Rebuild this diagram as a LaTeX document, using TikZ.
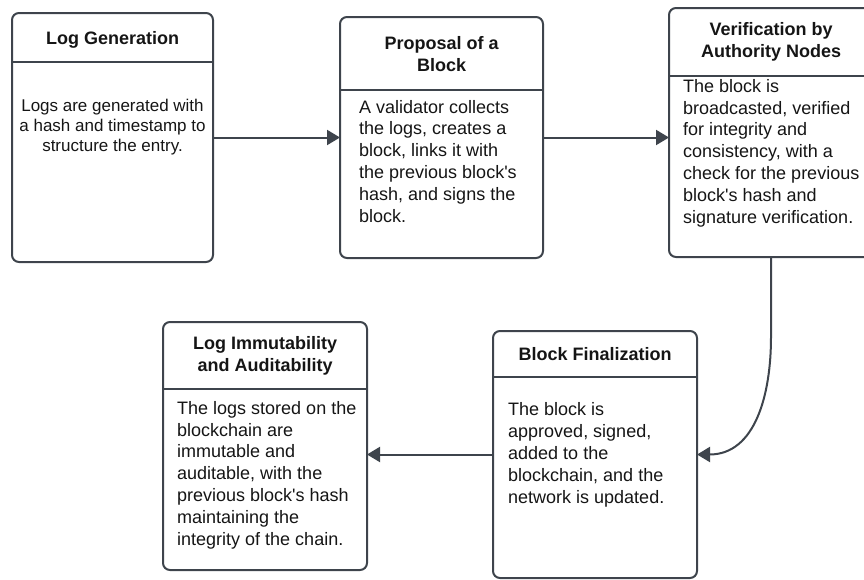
\documentclass[tikz,border=0pt]{standalone}
\usepackage{fontspec}
\setmainfont{Liberation Sans}
\usepackage{tikz}
\usetikzlibrary{arrows.meta,positioning}
\definecolor{edgegray}{HTML}{3E444C}
\definecolor{inkblack}{HTML}{151515}

\tikzset{
  stage/.style={draw=edgegray, line width=2pt, rounded corners=7pt, anchor=north west, inner sep=0pt, outer sep=0pt},
  head/.style={anchor=north west, text=inkblack, font=\bfseries\fontsize{18}{22}\selectfont, align=center, inner sep=0pt},
  body/.style={anchor=base west, text=inkblack, font=\fontsize{18}{21.8}\selectfont, align=left, inner sep=0pt},
  flow/.style={draw=edgegray, line width=2pt, -{Triangle[length=13pt,width=15pt]}},
}

\begin{document}
\begin{tikzpicture}[x=1pt, y=-1pt]
  \useasboundingbox (0,0) rectangle (864,579);

  % Frames of the five stages
  \node[stage, minimum width=201, minimum height=249] (gen) at (12,13) {};
  \node[stage, minimum width=203, minimum height=241] (prop) at (340,17) {};
  \node[stage, minimum width=204, minimum height=249] (verif) at (669,8) {};
  \node[stage, minimum width=204, minimum height=247] (final) at (493,331) {};
  \node[stage, minimum width=204, minimum height=248] (immut) at (163,322) {};

  % Headers
  \node[head, minimum width=201, minimum height=49, text depth=0pt] (gen-head) at (gen.north west) {Log Generation};
  \node[head, minimum width=203, minimum height=73] (prop-head) at (prop.north west) {Proposal of a\\Block};
  \node[head, minimum width=204, minimum height=68] (verif-head) at (verif.north west) {Verification by\\Authority Nodes};
  \node[head, minimum width=204, minimum height=46] (final-head) at (final.north west) {Block Finalization};
  \node[head, minimum width=204, minimum height=67] (immut-head) at (immut.north west) {Log Immutability\\and Auditability};

  % Divider under each header
  \foreach \s in {gen,prop,verif,final,immut} {
    \draw[edgegray, line width=2pt] (\s-head.south west) -- (\s-head.south east);
  }

  % Descriptions (placed by the baseline of their last line)
  \node[body, anchor=base, align=center, font=\fontsize{17}{20}\selectfont] (gen-body) at (112.5,151)
    {Logs are generated with\\a hash and timestamp to\\structure the entry.};
  \node[body] (prop-body) at (359,222)
    {A validator collects\\the logs, creates a\\block, links it with\\the previous block\textquotesingle s\\hash, and signs the\\block.};
  \node[body] (verif-body) at (683,223)
    {The block is\\broadcasted, verified\\for integrity and\\consistency, with a\\check for the previous\\block\textquotesingle s hash and\\signature verification.};
  \node[body] (final-body) at (508,503)
    {The block is\\approved, signed,\\added to the\\blockchain, and the\\network is updated.};
  \node[body] (immut-body) at (177,545)
    {The logs stored on the\\blockchain are\\immutable and\\auditable, with the\\previous block\textquotesingle s hash\\maintaining the\\integrity of the chain.};

  % Connectors
  \draw[flow] (gen.east) -- (prop.west);
  \draw[flow] (prop.east) -- (verif.west |- prop.east);
  \coordinate (bend) at ([yshift=-80pt]verif.south);
  \draw[flow] (verif.south) -- (bend) .. controls ([yshift=-58pt]bend) and ([xshift=58pt]final.east) .. (final.east);
  \draw[flow] (final.west) -- (immut.east |- final.west);

\end{tikzpicture}
\end{document}
